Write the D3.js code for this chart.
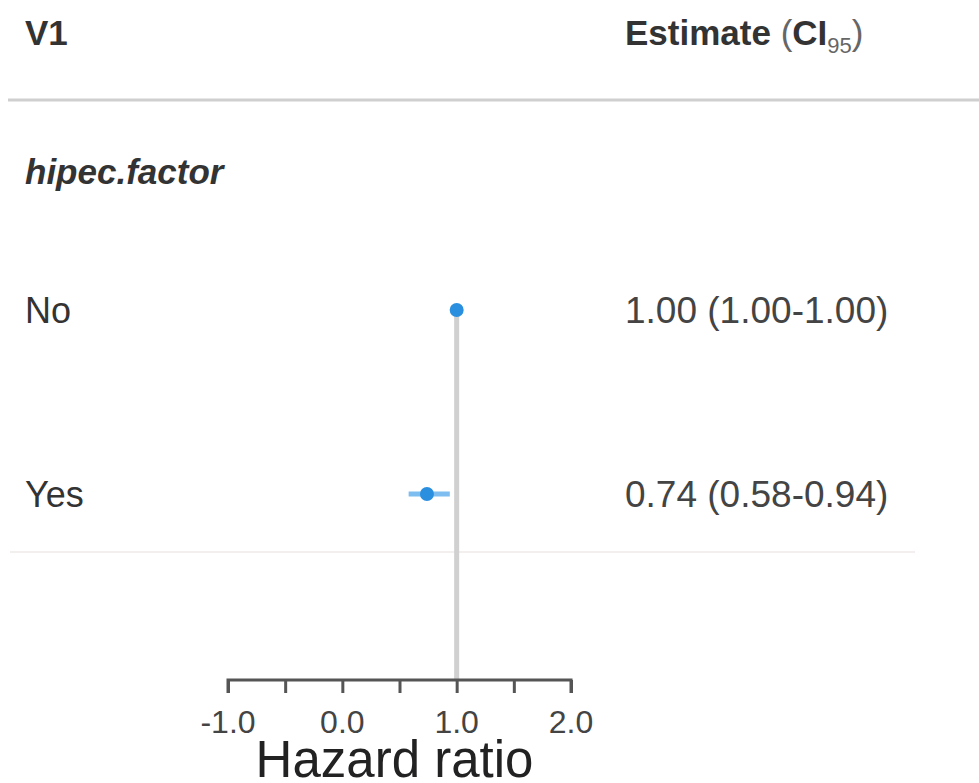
<!DOCTYPE html>
<html>
<head>
<meta charset="utf-8">
<script src="https://cdn.jsdelivr.net/npm/d3@7"></script>
<style>
  body { margin: 0; background: #fff; }
  text { font-family: "Liberation Sans", Arial, sans-serif; }
</style>
</head>
<body>
<svg id="chart" width="979" height="783"></svg>
<script>
const groupName = "hipec.factor";
const levels = ["No", "Yes"];
const estimates = [1.0, 0.74];
const lower = [1.0, 0.58];
const upper = [1.0, 0.94];
const labels = ["1.00 (1.00-1.00)", "0.74 (0.58-0.94)"];
const ticks = [-1.0, -0.5, 0.0, 0.5, 1.0, 1.5, 2.0];
const tickLabels = ["-1.0", "0.0", "1.0", "2.0"];

const svg = d3.select("#chart");

const x = d3.scaleLinear().domain([-1, 2]).range([228, 571]);
const y = d3.scalePoint().domain(levels).range([310, 494]);

const textCol = "#333";
const blue = "#2b8fe0";

// header
svg.append("text").attr("x", 25).attr("y", 45)
  .attr("font-size", 35).attr("font-weight", "bold").attr("fill", textCol)
  .text("V1");

const est = svg.append("text").attr("x", 625).attr("y", 45)
  .attr("font-size", 35).attr("fill", textCol);
est.append("tspan").attr("font-weight", "bold").text("Estimate ");
est.append("tspan").attr("fill", "#666").text("(");
est.append("tspan").attr("font-weight", "bold").text("CI");
est.append("tspan").attr("font-size", 22).attr("dy", 8).attr("fill", "#666").text("95");
est.append("tspan").attr("dy", -8).attr("fill", "#666").text(")");

svg.append("line").attr("x1", 8).attr("x2", 979).attr("y1", 100).attr("y2", 100)
  .attr("stroke", "#cfcfcf").attr("stroke-width", 3);

// group label
svg.append("text").attr("x", 25).attr("y", 184)
  .attr("font-size", 35).attr("font-weight", "bold").attr("font-style", "italic")
  .attr("fill", textCol).text(groupName);

// row labels and estimates
levels.forEach((lv, i) => {
  svg.append("text").attr("x", 25).attr("y", y(lv) + 13)
    .attr("font-size", 36).attr("fill", textCol).text(lv);
  svg.append("text").attr("x", 625).attr("y", y(lv) + 13)
    .attr("font-size", 37).attr("fill", "#444").text(labels[i]);
});

// faint separator below last row
svg.append("line").attr("x1", 10).attr("x2", 915).attr("y1", 552).attr("y2", 552)
  .attr("stroke", "#f4efef").attr("stroke-width", 2);

// reference line at 1
const axisY = 680;
svg.append("line").attr("x1", x(1)).attr("x2", x(1))
  .attr("y1", y("No")).attr("y2", axisY)
  .attr("stroke", "#d0d0d0").attr("stroke-width", 5);

// CI lines and points
levels.forEach((lv, i) => {
  svg.append("line").attr("x1", x(lower[i])).attr("x2", x(upper[i]))
    .attr("y1", y(lv)).attr("y2", y(lv))
    .attr("stroke", "#7dbdf0").attr("stroke-width", 5);
  svg.append("circle").attr("cx", x(estimates[i])).attr("cy", y(lv))
    .attr("r", 7).attr("fill", blue);
});

// axis
const axis = d3.axisBottom(x).tickValues(ticks).tickSize(13).tickFormat("");
const g = svg.append("g").attr("transform", `translate(0,${axisY})`).call(axis);
g.select(".domain").attr("stroke", "#555").attr("stroke-width", 3)
  .attr("d", `M${x(-1)},13V0H${x(2)}V13`);
g.selectAll(".tick line").attr("stroke", "#555").attr("stroke-width", 3);

tickLabels.forEach(t => {
  svg.append("text").attr("x", x(+t)).attr("y", 733)
    .attr("text-anchor", "middle").attr("font-size", 32).attr("fill", "#444")
    .text(t);
});

svg.append("text").attr("x", (x(-1) + x(2)) / 2 - 5).attr("y", 777)
  .attr("text-anchor", "middle").attr("font-size", 51).attr("fill", "#222")
  .text("Hazard ratio");
</script>
</body>
</html>
